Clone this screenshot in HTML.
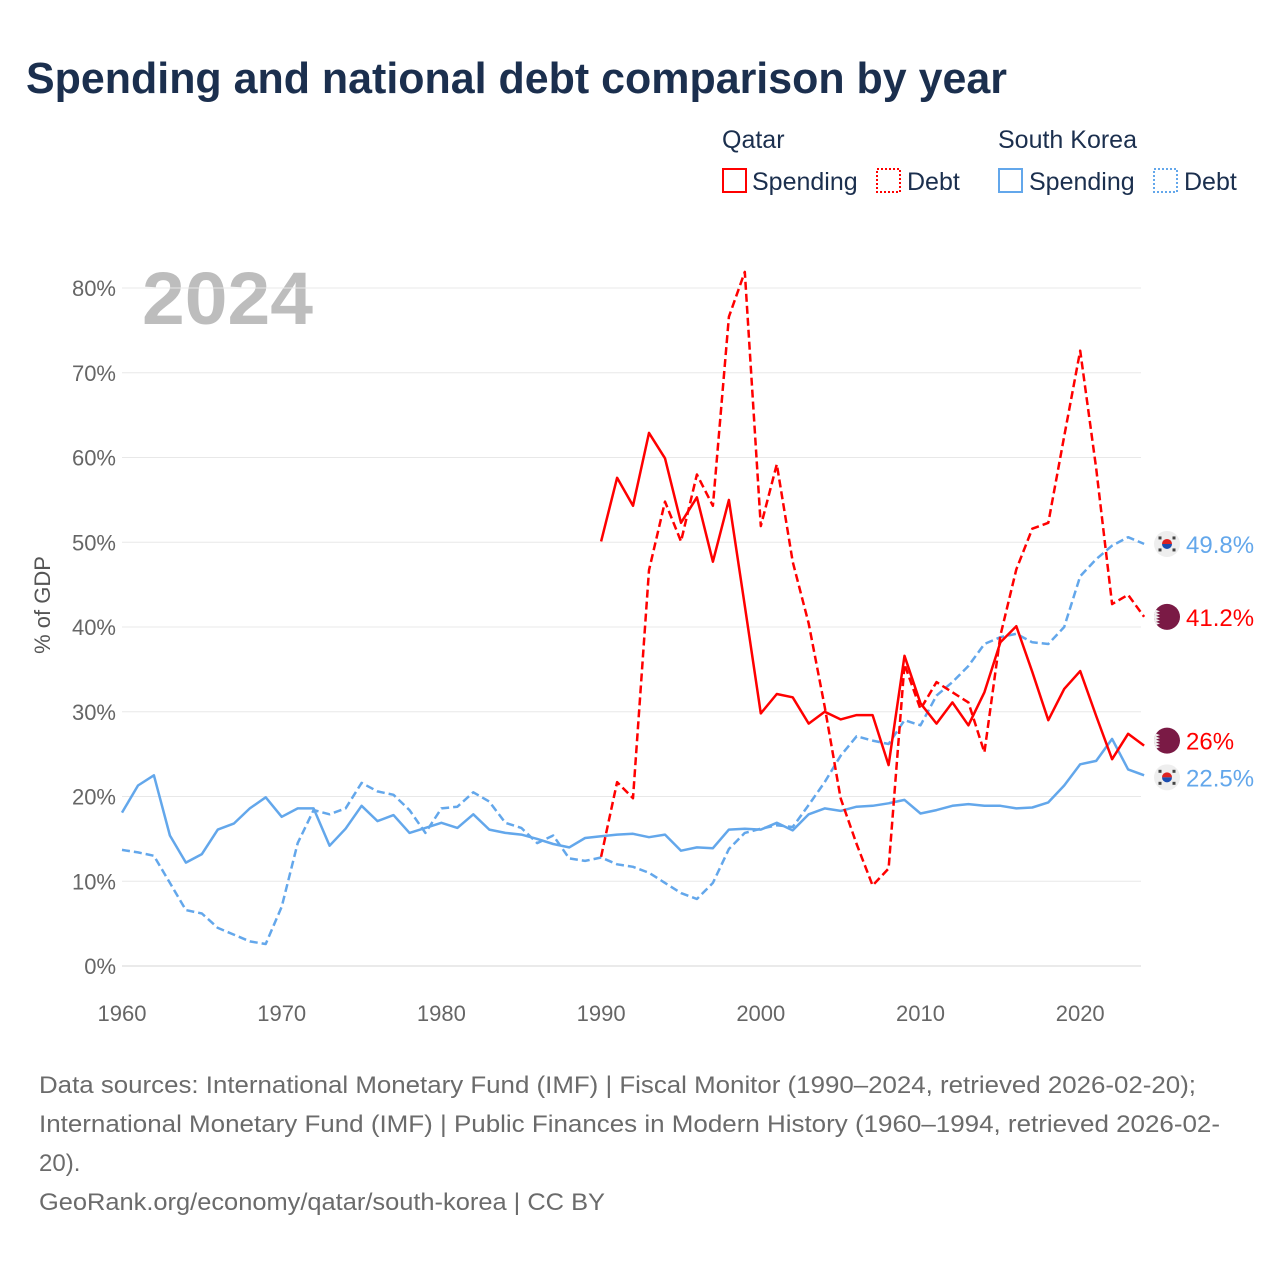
<!DOCTYPE html>
<html><head><meta charset="utf-8"><style>
html,body{margin:0;padding:0;background:#fff;width:1280px;height:1280px;overflow:hidden}
svg{display:block;font-family:"Liberation Sans",sans-serif}
</style></head><body>
<svg id="chart" width="1280" height="1280" viewBox="0 0 1280 1280">
<text x="26" y="93" font-size="44" font-weight="bold" fill="#1b2f4e" textLength="981" lengthAdjust="spacingAndGlyphs">Spending and national debt comparison by year</text>
<g font-size="25" fill="#1b2f4e">
<text x="722" y="148">Qatar</text>
<text x="998" y="148">South Korea</text>
<g><rect x="723" y="169" width="23" height="23" fill="none" stroke="#f00" stroke-width="2"/><text x="752" y="190">Spending</text></g>
<g><rect x="877" y="169" width="23" height="23" fill="none" stroke="#f00" stroke-width="2" stroke-dasharray="2,2"/><text x="907" y="190">Debt</text></g>
<g><rect x="999" y="169" width="23" height="23" fill="none" stroke="#63a7eb" stroke-width="2"/><text x="1029" y="190">Spending</text></g>
<g><rect x="1154" y="169" width="23" height="23" fill="none" stroke="#63a7eb" stroke-width="2" stroke-dasharray="2,2"/><text x="1184" y="190">Debt</text></g>
</g>
<text x="142" y="324" font-size="74" font-weight="bold" fill="#bdbdbd" textLength="171" lengthAdjust="spacingAndGlyphs">2024</text>
<text transform="translate(50,605) rotate(-90)" text-anchor="middle" font-size="22" fill="#555">% of GDP</text>
<g id="grid"></g>
<g id="xaxis"></g>
<g id="series"></g>
<g id="labels"></g>
<g font-size="24" fill="#6b6b6b">
<text x="39" y="1093" textLength="1157" lengthAdjust="spacingAndGlyphs">Data sources: International Monetary Fund (IMF) | Fiscal Monitor (1990–2024, retrieved 2026-02-20);</text>
<text x="39" y="1132" textLength="1181" lengthAdjust="spacingAndGlyphs">International Monetary Fund (IMF) | Public Finances in Modern History (1960–1994, retrieved 2026-02-</text>
<text x="39" y="1171">20).</text>
<text x="39" y="1210" textLength="566" lengthAdjust="spacingAndGlyphs">GeoRank.org/economy/qatar/south-korea | CC BY</text>
</g>
</svg>
<script>
const yTicks=[0,10,20,30,40,50,60,70,80];
const xTicks=[1960,1970,1980,1990,2000,2010,2020];
const krYears=[1960,1961,1962,1963,1964,1965,1966,1967,1968,1969,1970,1971,1972,1973,1974,1975,1976,1977,1978,1979,1980,1981,1982,1983,1984,1985,1986,1987,1988,1989,1990,1991,1992,1993,1994,1995,1996,1997,1998,1999,2000,2001,2002,2003,2004,2005,2006,2007,2008,2009,2010,2011,2012,2013,2014,2015,2016,2017,2018,2019,2020,2021,2022,2023,2024];
const krSpending=[18.1,21.3,22.5,15.4,12.2,13.2,16.1,16.8,18.6,19.9,17.6,18.6,18.6,14.2,16.2,18.9,17.1,17.8,15.7,16.3,16.9,16.3,17.9,16.1,15.7,15.5,15.0,14.4,14.0,15.1,15.3,15.5,15.6,15.2,15.5,13.6,14.0,13.9,16.1,16.2,16.1,16.9,16.0,17.9,18.6,18.3,18.8,18.9,19.2,19.6,18.0,18.4,18.9,19.1,18.9,18.9,18.6,18.7,19.3,21.3,23.8,24.2,26.8,23.2,22.5];
const krDebt=[13.7,13.4,13.0,9.8,6.6,6.2,4.5,3.7,2.9,2.6,7.0,14.5,18.4,17.9,18.6,21.6,20.6,20.2,18.4,15.7,18.6,18.8,20.5,19.4,16.9,16.3,14.5,15.4,12.7,12.4,12.8,12.0,11.7,11.0,9.8,8.6,7.9,9.8,13.8,15.7,16.2,16.6,16.4,19.0,21.7,24.8,27.1,26.6,26.2,29.0,28.4,31.9,33.5,35.4,38.0,38.8,39.2,38.2,38.0,40.0,46.0,48.0,49.6,50.6,49.8];
const qaYears=[1990,1991,1992,1993,1994,1995,1996,1997,1998,1999,2000,2001,2002,2003,2004,2005,2006,2007,2008,2009,2010,2011,2012,2013,2014,2015,2016,2017,2018,2019,2020,2021,2022,2023,2024];
const qaSpending=[50.1,57.6,54.3,62.9,59.9,52.3,55.3,47.7,55.0,42.5,29.8,32.1,31.7,28.6,30.0,29.1,29.6,29.6,23.7,36.6,31.0,28.6,31.1,28.4,32.3,38.2,40.1,34.7,29.0,32.7,34.8,29.5,24.4,27.4,26.0];
const qaDebt=[12.9,21.7,19.8,46.7,54.8,50.1,58.0,54.3,76.6,81.9,51.9,59.2,47.7,40.4,30.6,19.8,14.4,9.5,11.5,35.6,30.3,33.5,32.3,31.1,25.2,39.0,46.8,51.6,52.3,62.5,72.6,58.7,42.7,43.8,41.2];

const NS='http://www.w3.org/2000/svg';
const X=y=>122+(y-1960)*15.97;
const Y=v=>966-v*8.475;
function mk(tag,attrs,parent){const e=document.createElementNS(NS,tag);for(const k in attrs)e.setAttribute(k,attrs[k]);parent.appendChild(e);return e;}
const grid=document.getElementById('grid');
yTicks.forEach(t=>{
  const l=mk('line',{x1:122,x2:1141,y1:Y(t),y2:Y(t),stroke:t===0?'#d6d6d6':'#e8e8e8','stroke-width':1},grid);
  
  
  const tx=mk('text',{x:116,y:Y(t)+8,'text-anchor':'end','font-size':22,fill:'#666'},grid);
  tx.textContent=t+'%';
  
  
});
const xa=document.getElementById('xaxis');
xTicks.forEach(t=>{
  const tx=mk('text',{x:X(t),y:1021,'text-anchor':'middle','font-size':22,fill:'#666'},xa);
  tx.textContent=t;
  
  
});
const ser=document.getElementById('series');
function line(years,vals,color,dash,name){
  const d=vals.map((v,i)=>(i?'L':'M')+X(years[i]).toFixed(1)+','+Y(v).toFixed(1)).join(' ');
  const p=mk('path',{d:d,fill:'none',stroke:color,'stroke-width':2.5,'stroke-linejoin':'round'},ser);
  if(dash)p.setAttribute('stroke-dasharray','8,4');
  
  
}
line(krYears,krDebt,'#63a7eb',true,'korea-debt-line');
line(krYears,krSpending,'#63a7eb',false,'korea-spending-line');
line(qaYears,qaDebt,'#ff0000',true,'qatar-debt-line');
line(qaYears,qaSpending,'#ff0000',false,'qatar-spending-line');

const lab=document.getElementById('labels');
function endLabel(vals,color,flag,name,dy){
  const v=vals[vals.length-1];const y=Y(v)+(dy||0);
  const g=mk('g',{},lab);
  
  
  if(flag==='qa'){
    mk('circle',{cx:1167,cy:y,r:13,fill:'#7a1a45'},g);
    mk('path',{d:`M${1156},${y-7} l4,1.5 -4,1.5 4,1.5 -4,1.5 4,1.5 -4,1.5 4,1.5 -4,1.5 4,1.5 -4,1.5 L1156,${y+7} a13,13 0 0 1 0,-14 z`,fill:'#eee'},g);
  }else{
    mk('circle',{cx:1167,cy:y,r:13,fill:'#eee'},g);
    mk('path',{d:`M${1162},${y} a5,5 0 0 1 10,0 z`,fill:'#d22'},g);
    mk('path',{d:`M${1162},${y} a5,5 0 0 0 10,0 z`,fill:'#1a4db0'},g);
    [[-7,-6],[7,-6],[-7,6],[7,6]].forEach(o=>mk('rect',{x:1167+o[0]-1.5,y:y+o[1]-1.5,width:3,height:3,fill:'#444'},g));
  }
  const t=mk('text',{x:1186,y:y+9,'font-size':24,fill:color},g);
  t.textContent=(Math.round(v*10)/10)+'%';
}
endLabel(krDebt,'#63a7eb','kr','label-korea-debt',0);
endLabel(qaDebt,'#ff0000','qa','label-qatar-debt',0);
endLabel(qaSpending,'#ff0000','qa','label-qatar-spending',-5);
endLabel(krSpending,'#63a7eb','kr','label-korea-spending',2);
</script>
</body></html>
